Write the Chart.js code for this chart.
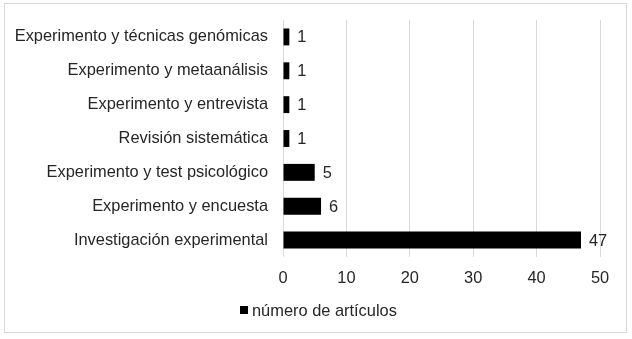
<!DOCTYPE html>
<html>
<head>
<meta charset="utf-8">
<script src="https://cdn.jsdelivr.net/npm/chart.js@4"></script>
<style>
  html, body { margin: 0; padding: 0; background: #fff; }
  #frame { position: absolute; left: 4px; top: 3px; width: 621px; height: 328px; border: 1px solid #d9d9d9; }
  #c { position: absolute; left: 0; top: 0; }
</style>
</head>
<body>
<div id="frame"></div>
<canvas id="c" width="632" height="339"></canvas>
<script>
const categories = [
  "Experimento y técnicas genómicas",
  "Experimento y metaanálisis",
  "Experimento y entrevista",
  "Revisión sistemática",
  "Experimento y test psicológico",
  "Experimento y encuesta",
  "Investigación experimental"
];
const values = [1, 1, 1, 1, 5, 6, 47];
const seriesName = "número de artículos";
const xTicks = [0, 10, 20, 30, 40, 50];

const FONT = "'Liberation Sans', Arial, sans-serif";
const FS = 16.4;
const TEXT = "#262626";

const valueLabels = {
  id: 'valueLabels',
  afterDatasetsDraw(chart) {
    const ctx = chart.ctx;
    const meta = chart.getDatasetMeta(0);
    ctx.save();
    ctx.font = FS + "px " + FONT;
    ctx.fillStyle = TEXT;
    ctx.textAlign = 'left';
    ctx.textBaseline = 'middle';
    meta.data.forEach((bar, i) => {
      ctx.fillText(String(values[i]), bar.x + 8, bar.y + 1);
    });
    ctx.restore();
  }
};

const customLegend = {
  id: 'customLegend',
  afterDraw(chart) {
    const ctx = chart.ctx;
    const ds = chart.data.datasets[0];
    ctx.save();
    ctx.font = FS + "px " + FONT;
    const tw = ctx.measureText(ds.label).width;
    const box = 8, gap = 4;
    const total = box + gap + tw;
    const x0 = Math.round(chart.width / 2 - total / 2) + 2;
    const cy = 310;
    ctx.fillStyle = ds.backgroundColor;
    ctx.fillRect(x0, cy - box / 2, box, box);
    ctx.fillStyle = TEXT;
    ctx.textAlign = 'left';
    ctx.textBaseline = 'middle';
    ctx.fillText(ds.label, x0 + box + gap, cy + 1);
    ctx.restore();
  }
};

new Chart(document.getElementById('c'), {
  type: 'bar',
  data: {
    labels: categories,
    datasets: [{
      label: seriesName,
      data: values,
      backgroundColor: '#000000',
      borderWidth: 0,
      categoryPercentage: 1.0,
      barPercentage: 0.5
    }]
  },
  options: {
    indexAxis: 'y',
    responsive: false,
    animation: false,
    layout: { padding: { top: 20, right: 32, bottom: 44, left: 0 } },
    plugins: {
      legend: { display: false },
      tooltip: { enabled: false }
    },
    scales: {
      x: {
        min: 0, max: 50,
        afterBuildTicks(scale) { scale.ticks = xTicks.map(v => ({ value: v })); },
        afterFit(scale) { scale.height = 38; scale.paddingLeft = 0; scale.paddingRight = 0; },
        grid: { color: '#d9d9d9', drawTicks: false, lineWidth: 1 },
        border: { display: false },
        ticks: { padding: 12, color: TEXT, font: { family: FONT, size: FS } }
      },
      y: {
        afterFit(scale) { scale.width = 283; scale.paddingTop = 0; scale.paddingBottom = 0; },
        grid: { display: false, drawTicks: false },
        border: { display: false },
        ticks: { padding: 15, color: TEXT, font: { family: FONT, size: FS } }
      }
    }
  },
  plugins: [valueLabels, customLegend]
});
</script>
</body>
</html>
